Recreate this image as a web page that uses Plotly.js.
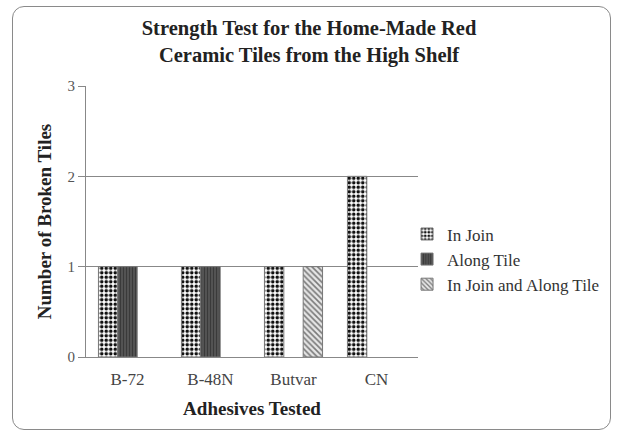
<!DOCTYPE html>
<html>
<head>
<meta charset="utf-8">
<script src="https://cdn.plot.ly/plotly-3.0.1.min.js"></script>
<style>
html,body{margin:0;padding:0;background:#fff;}
#wrap{position:relative;width:618px;height:436px;}
#chart{width:618px;height:436px;}
#frame{position:absolute;left:12px;top:6px;width:597px;height:422px;border:1.5px solid #8a8a8a;border-radius:12px;pointer-events:none;}
</style>
</head>
<body>
<div id="wrap"><div id="chart"></div><div id="frame"></div></div>
<script>
const categories = ["B-72", "B-48N", "Butvar", "CN"];
const inJoin = [1, 1, 1, 2];
const alongTile = [1, 1, 0, 0];
const inJoinAndAlong = [0, 0, 1, 0];
const seriesNames = ["In Join", "Along Tile", "In Join and Along Tile"];

const fontFam = '"Liberation Serif", "Times New Roman", serif';
// zero-height bars are not drawn in the reference (no outline line)
const shown = arr => arr.map(v => v === 0 ? null : v);

const traces = [
  {type:'bar', name:seriesNames[0], x:categories, y:shown(inJoin),
   marker:{color:'#ffffff', line:{color:'#777', width:1},
     pattern:{shape:'.', fgcolor:'#111', bgcolor:'#ffffff', size:4.5, solidity:0.5}}},
  {type:'bar', name:seriesNames[1], x:categories, y:shown(alongTile),
   marker:{color:'#4a4a4a', line:{color:'#777', width:1},
     pattern:{shape:'|', fgcolor:'#3a3a3a', bgcolor:'#565656', size:3, solidity:0.4}}},
  {type:'bar', name:seriesNames[2], x:categories, y:shown(inJoinAndAlong),
   marker:{color:'#dddddd', line:{color:'#777', width:1},
     pattern:{shape:'\\', fgcolor:'#7a7a7a', bgcolor:'#e6e6e6', size:4, solidity:0.4}}}
];

const layout = {
  width:618, height:436,
  margin:{l:86, r:200, t:86, b:79},
  paper_bgcolor:'rgba(0,0,0,0)', plot_bgcolor:'#fff',
  font:{family:fontFam, color:'#333', size:17},
  title:{text:'<b>Strength Test for the Home-Made Red<br>Ceramic Tiles from the High Shelf</b>',
    x:0.5, xref:'container', xanchor:'center', y:0.92, yref:'container', yanchor:'top',
    font:{family:fontFam, size:20.5, color:'#222'}},
  barmode:'group', bargap:0.3, bargroupgap:0,
  xaxis:{showline:true, linecolor:'#888', linewidth:1, ticks:'outside', ticklen:7, tickcolor:'rgba(0,0,0,0)',
    tickfont:{size:17, color:'#444'},
    title:{text:'<b>Adhesives Tested</b>', font:{size:19, color:'#222'}, standoff:13}},
  yaxis:{range:[0,3], dtick:1, showgrid:true, gridcolor:'#888', gridwidth:1,
    showline:true, linecolor:'#888', linewidth:1, ticks:'outside', ticklen:7, tickcolor:'#888',
    tickfont:{size:15, color:'#555'}, zeroline:false,
    title:{text:'<b>Number of Broken Tiles</b>', font:{size:19, color:'#222'}, standoff:10}},
  legend:{x:0.967, xanchor:'left', y:0.36, yanchor:'middle', font:{size:17, color:'#333'},
    itemwidth:30, bgcolor:'rgba(0,0,0,0)'},
  showlegend:true
};

Plotly.newPlot('chart', traces, layout, {displayModeBar:false, staticPlot:true});
</script>
</body>
</html>
